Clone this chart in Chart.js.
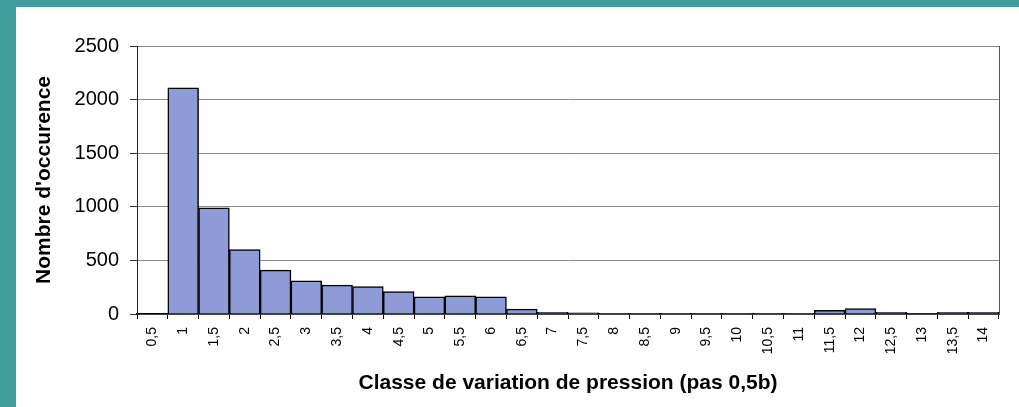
<!DOCTYPE html>
<html lang="fr">
<head>
<meta charset="utf-8">
<title>Classe de variation de pression</title>
<script src="https://cdn.jsdelivr.net/npm/chart.js@4/dist/chart.umd.min.js"></script>
<style>
  html, body {
    margin: 0;
    padding: 0;
    width: 1019px;
    height: 407px;
    overflow: hidden;
    background: #3f9e9b;
  }
  #cadre {
    position: absolute;
    left: 16px;
    top: 7px;
    width: 1003px;
    height: 400px;
    background: #ffffff;
  }
</style>
</head>
<body>
<div id="cadre">
  <canvas id="chart1" width="1003" height="400"></canvas>
</div>

<script>
// ================================
//            DONNÉES
// ================================
const classes = [
  "0,5", "1", "1,5", "2", "2,5", "3", "3,5", "4", "4,5", "5",
  "5,5", "6", "6,5", "7", "7,5", "8", "8,5", "9", "9,5", "10",
  "10,5", "11", "11,5", "12", "12,5", "13", "13,5", "14"
];

const occurences = [
  0, 2110, 990, 600, 410, 310, 270, 255, 210, 160,
  170, 160, 45, 15, 12, 3, 2, 2, 2, 2,
  2, 2, 35, 50, 15, 4, 15, 15
];

const yMin = 0;
const yMax = 2500;
const yStep = 500;

// ================================
//            CHART.JS
// ================================
const bleuBarre = "#8f9bd7";
const grisGrille = "#8a8a8a";

new Chart(document.getElementById("chart1"), {
  type: "bar",
  data: {
    labels: classes,
    datasets: [
      {
        data: occurences,
        backgroundColor: bleuBarre,
        borderColor: "#000000",
        borderWidth: 1.5,
        categoryPercentage: 1,
        barPercentage: 1,
      },
    ],
  },
  options: {
    responsive: false,
    animation: false,
    devicePixelRatio: 1,
    layout: { padding: { top: 39, left: 0, right: 0, bottom: 0 } },
    plugins: {
      legend: { display: false },
      tooltip: { enabled: false },
    },
    scales: {
      x: {
        grid: {
          display: true,
          offset: true,
          drawOnChartArea: false,
          drawTicks: true,
          tickLength: 5,
          color: "#000000",
        },
        border: { display: true, color: "#000000", width: 1.5 },
        ticks: {
          color: "#000000",
          font: { family: "Liberation Sans", size: 14 },
          maxRotation: 90,
          minRotation: 90,
          autoSkip: false,
          padding: 8,
        },
        title: {
          display: true,
          text: "Classe de variation de pression (pas 0,5b)",
          color: "#000000",
          font: { family: "Liberation Sans", size: 21, weight: "bold" },
          padding: { top: 11, bottom: 11 },
        },
        afterFit: (scale) => {
          scale.height = 93;
        },
      },
      y: {
        min: yMin,
        max: yMax,
        grid: {
          color: grisGrille,
          lineWidth: 1,
          tickLength: 7,
          tickColor: "#333333",
        },
        border: { display: true, color: "#222222", width: 1 },
        ticks: {
          stepSize: yStep,
          color: "#000000",
          font: { family: "Liberation Sans", size: 20 },
          padding: 11,
          // pas de séparateur de milliers
          callback: (value) => String(value),
        },
        title: {
          display: true,
          text: "Nombre d'occurence",
          color: "#000000",
          font: { family: "Liberation Sans", size: 21, weight: "bold" },
          padding: { top: 16, bottom: 16 },
        },
        afterFit: (scale) => {
          scale.width = 121;
        },
      },
      // bordure droite du tracé
      y2: {
        position: "right",
        min: yMin,
        max: yMax,
        grid: { display: false, drawTicks: false },
        border: { display: true, color: "#555555", width: 1 },
        ticks: { display: false },
        afterFit: (scale) => {
          scale.width = 20;
        },
      },
    },
  },
});
</script>
</body>
</html>
